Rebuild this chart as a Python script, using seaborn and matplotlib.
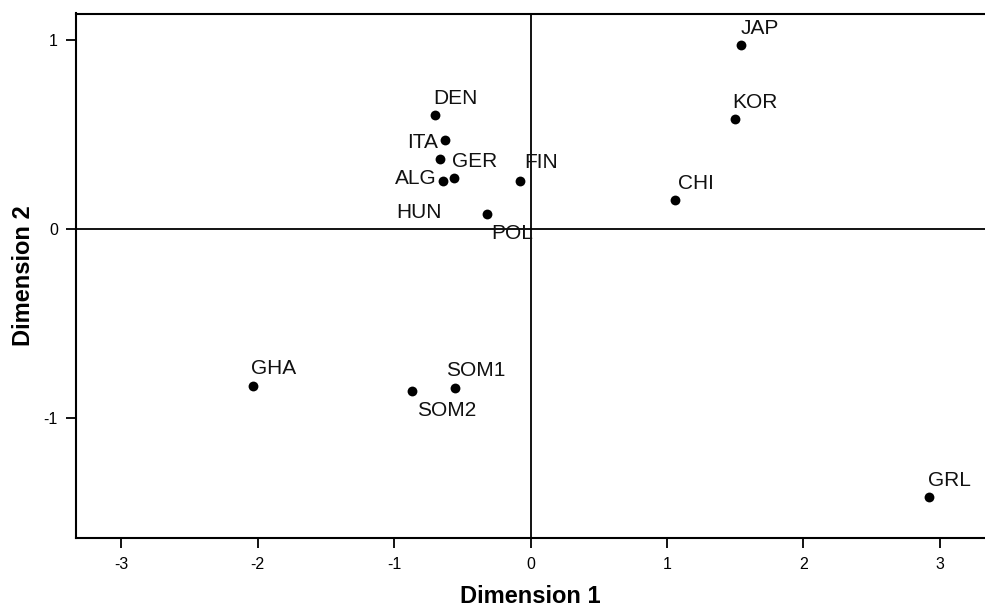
import numpy as np
import pandas as pd
import matplotlib
matplotlib.use("Agg")
import matplotlib.pyplot as plt
import seaborn as sns

labels = ["DEN", "ITA", "GER", "ALG", "HUN", "FIN", "POL",
          "CHI", "KOR", "JAP", "GHA", "SOM1", "SOM2", "GRL"]
dim1 = [-0.70, -0.63, -0.66, -0.64, -0.56, -0.08, -0.32,
        1.06, 1.50, 1.54, -2.03, -0.55, -0.87, 2.92]
dim2 = [0.60, 0.47, 0.37, 0.25, 0.27, 0.25, 0.08,
        0.15, 0.58, 0.97, -0.83, -0.84, -0.86, -1.42]

# label offsets in points (dx, dy, ha)
offsets = {
    "DEN": (-1.5, 8, "left"), "ITA": (-4.5, -6, "right"), "GER": (8, -6, "left"),
    "ALG": (-5, -1.5, "right"), "HUN": (-9, -29, "right"), "FIN": (3.5, 9.5, "left"),
    "POL": (3.5, -18, "left"), "CHI": (2, 8.5, "left"), "KOR": (-2, 8, "left"),
    "JAP": (0, 8, "left"), "GHA": (-1.5, 8.5, "left"), "SOM1": (-7, 8.5, "left"),
    "SOM2": (3.5, -18, "left"), "GRL": (-1, 8.5, "left"),
}

df = pd.DataFrame({"label": labels, "Dimension 1": dim1, "Dimension 2": dim2})

sns.set_style("ticks")
plt.rcParams["font.family"] = ["Liberation Sans", "DejaVu Sans"]
plt.rcParams["axes.unicode_minus"] = False
plt.rcParams["text.color"] = "black"
plt.rcParams["axes.labelcolor"] = "black"
plt.rcParams["xtick.color"] = "black"
plt.rcParams["ytick.color"] = "black"
plt.rcParams["axes.edgecolor"] = "black"

fig = plt.figure(figsize=(9.85, 6.07), dpi=100)
ax = fig.add_axes([76 / 985, 1 - 538 / 607, 1 - 76 / 985, (538 - 13.5) / 607])

ax.axhline(0, color="black", lw=1.3, zorder=1)
ax.axvline(0, color="black", lw=1.3, zorder=1)

sns.scatterplot(data=df, x="Dimension 1", y="Dimension 2", color="black",
                s=50, edgecolor="black", linewidth=0, ax=ax, zorder=3)

for lab, x, y in zip(labels, dim1, dim2):
    dx, dy, ha = offsets[lab]
    ax.annotate(lab, (x, y), xytext=(dx, dy), textcoords="offset points",
                ha=ha, va="baseline", fontsize=15, color="#111111")

ax.set_xlim(-3.33, 3.33)
ax.set_ylim(-1.635, 1.138)
ax.set_xticks([-3, -2, -1, 0, 1, 2, 3])
ax.set_yticks([-1, 0, 1])
ax.tick_params(direction="out", length=7, width=1.3, labelsize=11.5)
ax.tick_params(axis="x", pad=7)
ax.tick_params(axis="y", pad=6)
for side in ["left", "bottom", "top"]:
    ax.spines[side].set_linewidth(1.5)
ax.spines["right"].set_visible(False)

ax.set_xlabel("Dimension 1", fontsize=17, fontweight="bold", labelpad=9)
ax.set_ylabel("Dimension 2", fontsize=17, fontweight="bold", labelpad=6)

fig.savefig("out.png", dpi=100)
